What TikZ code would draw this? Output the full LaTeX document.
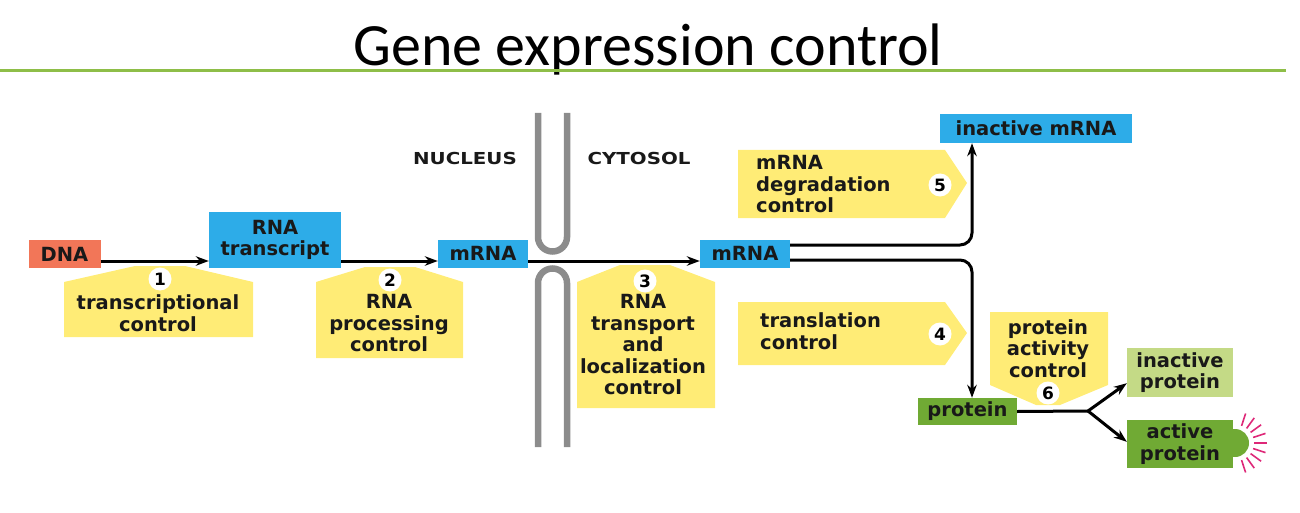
\documentclass[tikz,border=0pt]{standalone}
\usepackage{fontspec}
\setmainfont{DejaVu Sans}
\newfontfamily\titlefont{Carlito}
\newfontfamily\capsfont{DejaVu Sans}[FakeStretch=1.2]
\usetikzlibrary{arrows.meta,calc}
\definecolor{cblue}{RGB}{45,172,232}
\definecolor{csalmon}{RGB}{242,118,88}
\definecolor{cyellow}{RGB}{255,236,118}
\definecolor{cgreen}{RGB}{112,170,52}
\definecolor{clgreen}{RGB}{196,218,134}
\definecolor{ctitle}{RGB}{142,190,72}
\definecolor{cgray}{RGB}{140,140,140}
\definecolor{cpink}{RGB}{222,40,120}
\begin{document}
\begin{tikzpicture}[x=1pt,y=-1pt,
  lbl/.style={font=\bfseries\fontsize{19.5}{21.5}\selectfont, align=center, inner sep=0pt, text=black!90},
  lbll/.style={lbl, align=left, anchor=west},
  box/.style={lbl, anchor=center, inner sep=0pt},
  arr/.style={line width=3pt, -{Stealth[length=13pt,width=9.5pt]}},
  conn/.style={line width=3pt},
  num/.style={circle, fill=white, inner sep=0pt, minimum size=23pt, font=\bfseries\fontsize{17}{17}\selectfont},
  wall/.style={line width=6.5pt, cgray, rounded corners=14.5pt}]
\useasboundingbox (0,0) rectangle (1300,513);
% title
\node[font=\titlefont\fontsize{60}{62}\selectfont, anchor=base, inner sep=0pt] (title) at (648,66) {Gene expression control};
\draw[ctitle, line width=3pt] (0,71) -- (1286,71);
% membrane
\draw[wall] (538,113) -- (538,251.5) -- (567,251.5) -- (567,113);
\draw[wall] (538,447) -- (538,268.5) -- (567,268.5) -- (567,447);
\node[lbl, font=\capsfont\bfseries\fontsize{16.5}{18}\selectfont] (nuc) at (465,158) {NUCLEUS};
\node[lbl, font=\capsfont\bfseries\fontsize{16.5}{18}\selectfont] (cyt) at (639,158) {CYTOSOL};
% callouts
\fill[cyellow] (64,337) -- (64,282) -- (135,266) -- (185,266) -- (253,282) -- (253,337) -- cycle;
\fill[cyellow] (316,358) -- (316,282) -- (365,267) -- (415,267) -- (463,282) -- (463,358) -- cycle;
\fill[cyellow] (577,408) -- (577,282) -- (620,265) -- (670,265) -- (715,282) -- (715,408) -- cycle;
\fill[cyellow] (738,150) -- (945,150) -- (967,183) -- (945,218) -- (738,218) -- cycle;
\fill[cyellow] (738,302) -- (945,302) -- (967,333) -- (945,365) -- (738,365) -- cycle;
\fill[cyellow] (990,312) -- (1108,312) -- (1108,385) -- (1060,405) -- (1036,405) -- (990,385) -- cycle;
\node[num] (n1) at (160,279) {1};
\node[num] (n2) at (390,280) {2};
\node[num] (n3) at (645,281) {3};
\node[num] (n4) at (940,334) {4};
\node[num] (n5) at (940,185) {5};
\node[num] (n6) at (1048,393) {6};
\node[lbl] (t1) at (158,313) {transcriptional\\control};
\node[lbl] (t2) at (389,323.5) {RNA\\processing\\control};
\node[lbl] (t3) at (643,345) {RNA\\transport\\and\\localization\\control};
\node[lbll] (t5) at (756,184.5) {mRNA\\degradation\\control};
\node[lbll] (t4) at (760,331) {translation\\control};
\node[lbl] (t6) at (1048,348.5) {protein\\activity\\control};
% boxes
\node[box,fill=csalmon,minimum width=72pt,minimum height=28pt] (dna) at (64.5,254) {DNA};
\node[box,fill=cblue,minimum width=132pt,minimum height=56pt] (rna) at (275,240) {RNA\\transcript};
\node[box,fill=cblue,minimum width=90pt,minimum height=28pt] (m1) at (483,253.5) {mRNA};
\node[box,fill=cblue,minimum width=90pt,minimum height=28pt] (m2) at (745,253.5) {mRNA};
\node[box,fill=cblue,minimum width=192pt,minimum height=29pt] (im) at (1036,128.5) {inactive mRNA};
\node[box,fill=cgreen,minimum width=99pt,minimum height=27pt] (prot) at (967.5,411.5) {protein};
\node[box,fill=clgreen,minimum width=106pt,minimum height=49pt] (ip) at (1180,372.5) {inactive\\protein};
\fill[cgreen] (1235,443) circle (14pt);
\node[box,fill=cgreen,minimum width=106pt,minimum height=48pt] (ap) at (1180,444) {active\\protein};
\coordinate (bc) at (1236,443);
\foreach \a in {-72,-54,...,72}
  \draw[cpink, line width=1.6pt] ($(bc)+(\a:18)$) -- ($(bc)+(\a:31)$);
% connectors
\coordinate (yl) at (0,261);
\draw[arr] (dna.east |- yl) -- (rna.west |- yl);
\draw[arr] (rna.east |- yl) -- (m1.west |- yl);
\draw[arr] (m1.east |- yl) -- (m2.west |- yl);
\coordinate (up) at (0,245);
\coordinate (vx) at (972,0);
\coordinate (dn) at (0,260);
\draw[arr, rounded corners=12pt] (m2.east |- up) -- (vx |- up) -- (vx |- im.south);
\draw[arr, rounded corners=12pt] (m2.east |- dn) -- (vx |- dn) -- (vx |- prot.north);
\coordinate (split) at (1088,411);
\draw[conn] (prot.east) -- (split);
\draw[arr] (split) -- ([yshift=14pt]ip.south west);
\draw[arr] (split) -- ([yshift=-22pt]ap.north west);
\end{tikzpicture}
\end{document}
